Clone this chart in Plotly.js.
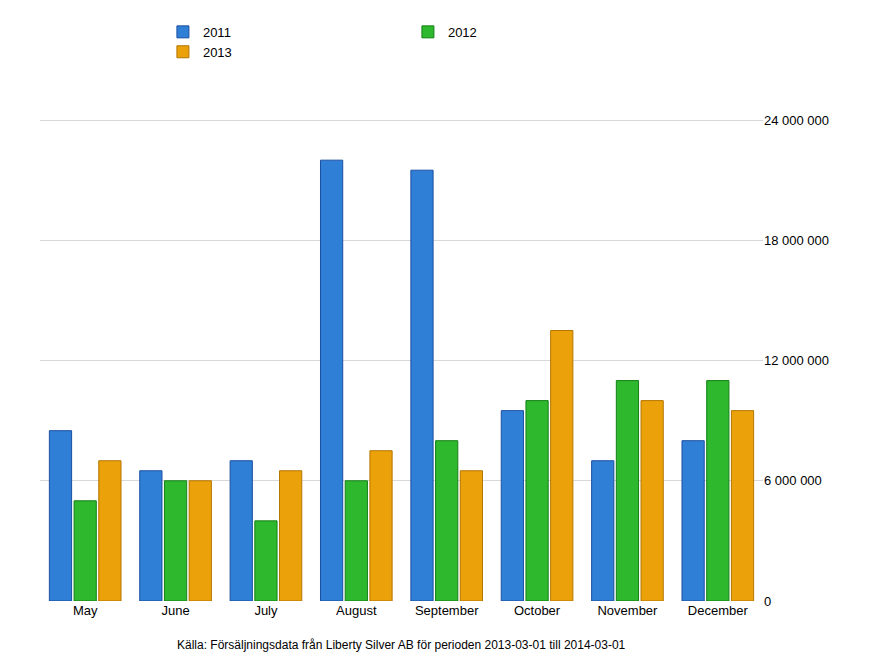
<!DOCTYPE html>
<html>
<head>
<meta charset="utf-8">
<script src="https://cdn.plot.ly/plotly-3.0.1.min.js"></script>
<style>body{margin:0;background:#fff}</style>
</head>
<body>
<div id="chart" style="width:873px;height:661px"></div>
<script>
const months = ['May', 'June', 'July', 'August', 'September', 'October', 'November', 'December'];
const sales2011 = [8500000, 6500000, 7000000, 22000000, 21500000, 9500000, 7000000, 8000000];
const sales2012 = [5000000, 6000000, 4000000, 6000000, 8000000, 10000000, 11000000, 11000000];
const sales2013 = [7000000, 6000000, 6500000, 7500000, 6500000, 13500000, 10000000, 9500000];
const tickVals = [0, 6000000, 12000000, 18000000, 24000000];
const tickText = ['0', '6 000 000', '12 000 000', '18 000 000', '24 000 000'];

function series(name, y, color, line) {
  return {
    type: 'bar', name: name, x: months, y: y,
    marker: {color: color, line: {color: line, width: 1}}
  };
}

Plotly.newPlot('chart', [
  series('2011', sales2011, '#2f7fd6', '#1c4fa0'),
  series('2012', sales2012, '#2db82d', '#168016'),
  series('2013', sales2013, '#eba20a', '#b57500')
], {
  width: 873, height: 661,
  margin: {l: 40, r: 110, t: 70, b: 60},
  font: {family: 'Liberation Sans, Arial, sans-serif', size: 13, color: '#000'},
  barmode: 'group', bargap: 0.18, bargroupgap: 0.1,
  showlegend: true,
  legend: {orientation: 'h', x: 0.17, y: 1.1, xanchor: 'left', font: {size: 13},
           traceorder: 'normal', entrywidth: 200, entrywidthmode: 'pixels'},
  xaxis: {showline: false, ticks: '', tickfont: {size: 13}},
  yaxis: {side: 'right', range: [0, 26500000], tickvals: tickVals, ticktext: tickText,
          gridcolor: '#d8d8d8', zeroline: false, tickfont: {size: 13}},
  annotations: [{
    text: 'Källa: Försäljningsdata från Liberty Silver AB för perioden 2013-03-01 till 2014-03-01',
    xref: 'paper', yref: 'paper', x: 0.5, y: -0.1, showarrow: false, font: {size: 12}
  }]
}, {displayModeBar: false});
</script>
</body>
</html>
